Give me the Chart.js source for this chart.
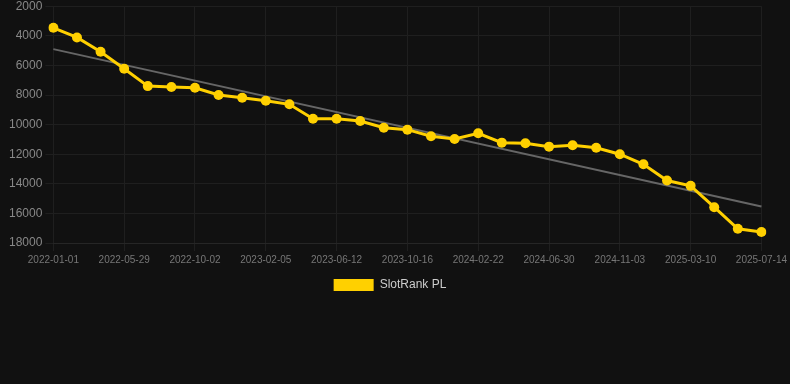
<!DOCTYPE html>
<html>
<head>
<meta charset="utf-8">
<script src="https://cdn.jsdelivr.net/npm/chart.js@4/dist/chart.umd.min.js"></script>
<style>
    html, body { margin: 0; padding: 0; background: #111111; overflow: hidden; }
    #wrap { width: 790px; height: 305px; margin-top: -4px; }
</style>
</head>
<body>
<div id="wrap"><canvas id="rank-chart"></canvas></div>
<script>
// Даты замеров
const dates = [
    '2022-01-01', '2022-02-19', '2022-04-09', '2022-05-29', '2022-07-10', '2022-08-21',
    '2022-10-02', '2022-11-13', '2022-12-25', '2023-02-05', '2023-03-19', '2023-04-30',
    '2023-06-12', '2023-07-24', '2023-09-04', '2023-10-16', '2023-11-28', '2024-01-09',
    '2024-02-22', '2024-04-04', '2024-05-17', '2024-06-30', '2024-08-11', '2024-09-22',
    '2024-11-03', '2024-12-15', '2025-01-26', '2025-03-10', '2025-04-21', '2025-06-02',
    '2025-07-14'
];

// Позиция в рейтинге
const rankValues = [
    3460, 4110, 5080, 6230, 7400, 7460, 7510, 8000, 8190, 8390, 8630,
    9600, 9600, 9760, 10210, 10340, 10790, 10970, 10590, 11220, 11260,
    11490, 11400, 11560, 12000, 12680, 13780, 14140, 15580, 17040, 17260
];

// Линия тренда: только начало и конец
const trendStart = 4900;
const trendEnd = 15540;

const yTicks = { min: 2000, max: 18000, step: 2000 };

const trendValues = dates.map((d, i) => {
    if (i === 0) return trendStart;
    if (i === dates.length - 1) return trendEnd;
    return null;
});

const font = 'Arial, "Liberation Sans", Helvetica, sans-serif';

new Chart(document.getElementById('rank-chart'), {
    type: 'line',
    data: {
        labels: dates,
        datasets: [
            {
                label: 'SlotRank PL',
                data: rankValues,
                borderColor: '#FFD000',
                backgroundColor: '#FFD000',
                borderWidth: 3,
                pointRadius: 5,
                pointBackgroundColor: '#FFD000',
                pointBorderWidth: 0,
                tension: 0
            },
            {
                label: 'trend',
                data: trendValues,
                borderColor: '#666666',
                borderWidth: 2,
                pointRadius: 0,
                spanGaps: true,
                tension: 0
            }
        ]
    },
    options: {
        responsive: true,
        maintainAspectRatio: false,
        animation: false,
        layout: { padding: { left: 6, right: 16 } },
        plugins: {
            legend: {
                position: 'bottom',
                labels: {
                    color: '#cccccc',
                    font: { family: font, size: 12 },
                    boxWidth: 40,
                    boxHeight: 12,
                    generateLabels: chart => Chart.defaults.plugins.legend.labels
                        .generateLabels(chart)
                        .filter(item => item.datasetIndex === 0)
                        .map(item => ({ ...item, lineWidth: 0 }))
                }
            },
            tooltip: { enabled: false }
        },
        scales: {
            x: {
                grid: { color: '#1f1f1f' },
                border: { color: '#262626' },
                ticks: {
                    color: '#777777',
                    font: { family: font, size: 10 },
                    maxRotation: 0,
                    autoSkip: true,
                    maxTicksLimit: 11
                }
            },
            y: {
                reverse: true,
                min: yTicks.min,
                max: yTicks.max,
                grid: { color: '#1f1f1f' },
                border: { display: false },
                ticks: {
                    stepSize: yTicks.step,
                    color: '#888888',
                    font: { family: font, size: 12 },
                    callback: v => String(v)
                }
            }
        }
    }
});
</script>
</body>
</html>
